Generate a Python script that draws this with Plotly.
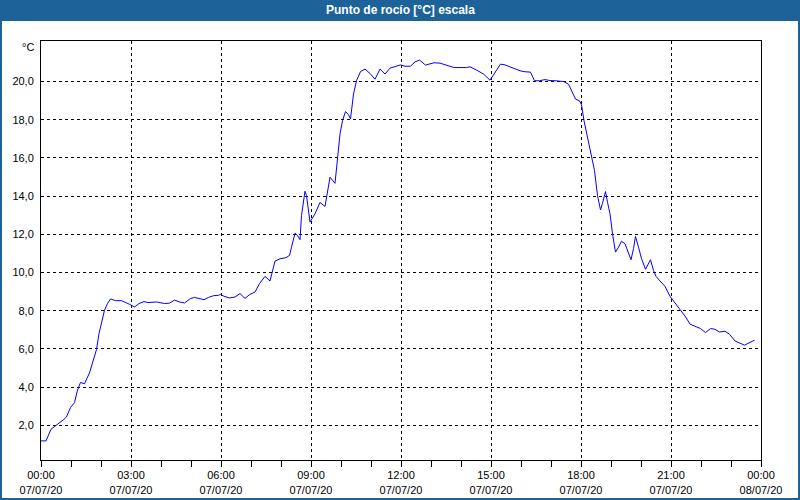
import plotly.graph_objects as go
import pandas as pd

# minutes after 07/07/20 00:00
minutes = [0, 10, 20, 27, 37, 46, 51, 59, 67, 73, 79, 87, 97, 104, 111, 116, 121, 127, 133, 139,
           149, 161, 177, 187, 196, 206, 214, 231, 247, 257, 267, 277, 287, 299, 307, 321, 326, 335,
           345, 355, 359, 366, 377, 388, 398, 408, 418, 428, 437, 448, 458, 468, 478, 490, 497, 501,
           508, 513, 518, 521, 528, 531, 538, 548, 558, 568, 578, 588, 593, 598, 603, 609, 615, 619,
           625, 631, 639, 648, 658, 668, 678, 688, 698, 708, 719, 728, 739, 748, 757, 769, 778, 786,
           798, 808, 826, 851, 858, 871, 885, 898, 908, 919, 928, 941, 958, 968, 979, 987, 997, 1008,
           1018, 1028, 1045, 1055, 1061, 1069, 1077, 1081, 1086, 1093, 1100, 1107, 1113, 1119, 1123,
           1129, 1133, 1138, 1143, 1149, 1155, 1161, 1168, 1175, 1180, 1185, 1189, 1195, 1201, 1209,
           1219, 1225, 1230, 1238, 1248, 1258, 1268, 1278, 1290, 1298, 1308, 1319, 1329, 1339, 1348,
           1357, 1368, 1377, 1388, 1398, 1407, 1416, 1427]
dew_point = [1.19, 1.19, 1.80, 1.93, 2.11, 2.32, 2.45, 2.94, 3.19, 3.85, 4.25, 4.18, 4.75, 5.33, 5.97,
             6.81, 7.42, 8.03, 8.38, 8.62, 8.53, 8.53, 8.34, 8.20, 8.38, 8.48, 8.43, 8.46, 8.38, 8.40,
             8.56, 8.46, 8.41, 8.64, 8.70, 8.64, 8.58, 8.70, 8.79, 8.81, 8.86, 8.76, 8.67, 8.72, 8.90,
             8.65, 8.86, 8.98, 9.42, 9.80, 9.56, 10.60, 10.72, 10.78, 10.90, 11.33, 12.06, 11.94, 11.72,
             12.99, 14.26, 14.03, 12.64, 13.08, 13.67, 13.46, 14.99, 14.67, 16.00, 17.25, 17.95, 18.43,
             18.26, 18.04, 19.34, 20.04, 20.52, 20.65, 20.42, 20.12, 20.65, 20.39, 20.70, 20.78, 20.87,
             20.80, 20.80, 21.03, 21.12, 20.86, 20.94, 20.98, 20.96, 20.87, 20.73, 20.73, 20.77, 20.60,
             20.39, 20.07, 20.47, 20.91, 20.87, 20.73, 20.56, 20.51, 20.49, 20.04, 20.04, 20.10, 20.05,
             20.04, 20.00, 19.86, 19.51, 19.08, 18.99, 18.78, 17.95, 17.08, 16.21, 15.34, 14.03, 13.28,
             13.63, 14.24, 13.68, 13.08, 12.03, 11.07, 11.33, 11.64, 11.51, 11.07, 10.67, 11.25, 11.89,
             11.33, 10.73, 10.17, 10.67, 10.11, 9.80, 9.56, 9.28, 8.76, 8.41, 8.03, 7.65, 7.30, 7.19,
             7.07, 6.86, 7.07, 7.03, 6.89, 6.93, 6.77, 6.42, 6.32, 6.20, 6.32, 6.46]

tick_times = ["00:00", "03:00", "06:00", "09:00", "12:00", "15:00", "18:00", "21:00", "00:00"]
tick_dates = ["07/07/20"] * 8 + ["08/07/20"]
y_ticks = [2, 4, 6, 8, 10, 12, 14, 16, 18, 20]
title_text = "Punto de rocío [°C] escala"
unit_text = "°C"

base = pd.Timestamp("2020-07-07 00:00")
xs = [base + pd.Timedelta(minutes=m) for m in minutes]
tickvals = [base + pd.Timedelta(hours=3 * i) for i in range(len(tick_times))]
ticktext = [f"{t}<br>{d}" for t, d in zip(tick_times, tick_dates)]

W, H = 800, 500
ml, mr, mt, mb = 41, 39, 41, 40
pw, ph = W - ml - mr, H - mt - mb
BLUE = "#1d6399"

fig = go.Figure()
fig.add_trace(go.Scatter(x=xs, y=dew_point, mode="lines",
                         line=dict(color="#0000ff", width=1), hoverinfo="skip"))

ymin, ymax = min(dew_point) - 1, max(dew_point) + 1

fig.update_layout(
    width=W, height=H,
    margin=dict(l=ml, r=mr, t=mt, b=mb, pad=0),
    paper_bgcolor="#ffffff", plot_bgcolor="#ffffff",
    showlegend=False,
    separators=",.",
    font=dict(family="Liberation Sans, Arial, sans-serif", size=11, color="#000000"),
    xaxis=dict(type="date", range=[tickvals[0], tickvals[-1]],
               tickvals=tickvals, ticktext=ticktext, automargin=False,
               showgrid=True, gridcolor="#000000", gridwidth=1, griddash="3px,3px",
               showline=True, linecolor="#000000", linewidth=1, mirror=True,
               ticks="outside", ticklen=6, tickcolor="#000000", tickwidth=1,
               ticklabelstandoff=-1,
               minor=dict(dtick=3600000, ticks="outside", ticklen=6, tickcolor="#000000",
                          showgrid=False),
               zeroline=False, fixedrange=True),
    yaxis=dict(range=[ymin, ymax], tickvals=y_ticks, tickformat=".1f", automargin=False,
               showgrid=True, gridcolor="#000000", gridwidth=1, griddash="3px,3px",
               showline=True, linecolor="#000000", linewidth=1, mirror=True,
               ticks="", ticklabelstandoff=4, zeroline=False, fixedrange=True),
)

# title bar
fig.add_shape(type="rect", xref="paper", yref="paper",
              x0=-ml / pw, x1=1 + mr / pw, y0=1 + (mt - 21) / ph, y1=1 + mt / ph,
              fillcolor=BLUE, line=dict(width=0), layer="below")
# outer frame
fig.add_shape(type="rect", xref="paper", yref="paper",
              x0=-(ml - 1) / pw, x1=1 + (mr - 1) / pw, y0=-(mb - 1) / ph, y1=1 + (mt - 1) / ph,
              fillcolor="rgba(0,0,0,0)", line=dict(color=BLUE, width=2))
fig.add_annotation(text=f"<b>{title_text}</b>", xref="paper", yref="paper",
                   x=(W / 2 - ml) / pw, y=1 + (mt - 10) / ph, xanchor="center", yanchor="middle",
                   showarrow=False, font=dict(color="#ffffff", size=12,
                                              family="Liberation Sans, Arial, sans-serif"))
fig.add_annotation(text=unit_text, xref="paper", yref="paper",
                   x=-5 / pw, y=1 - 6 / ph, xanchor="right", yanchor="middle",
                   showarrow=False, font=dict(size=11, color="#000000"))

fig.write_html("out.html")
